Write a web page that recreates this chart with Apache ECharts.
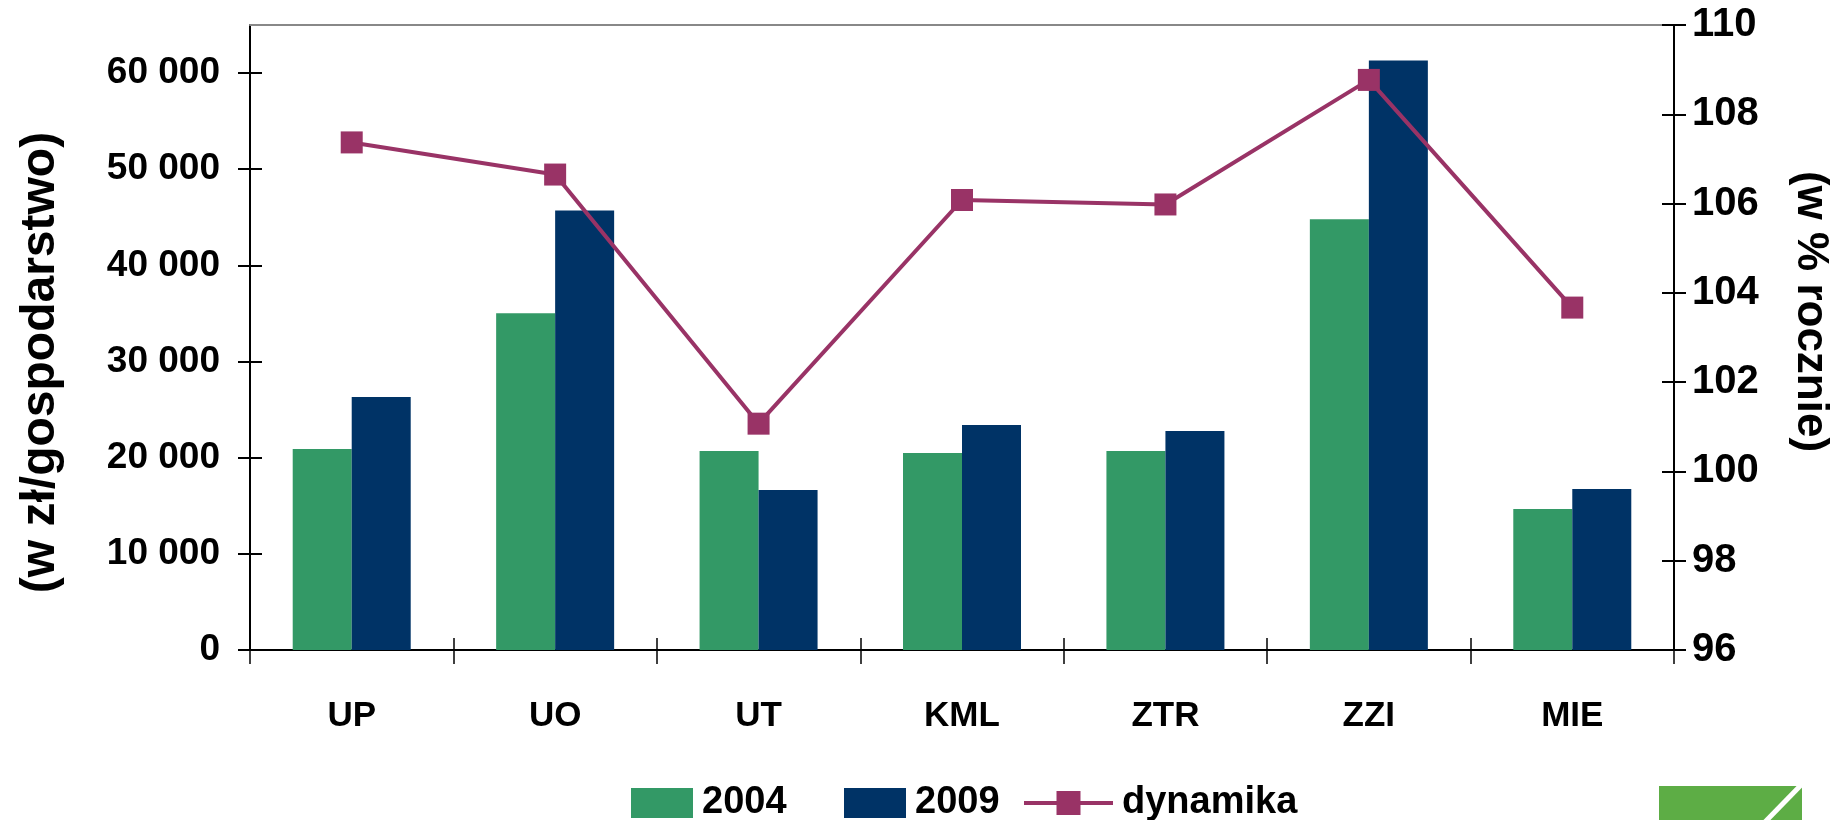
<!DOCTYPE html>
<html>
<head>
<meta charset="utf-8">
<script src="https://cdn.jsdelivr.net/npm/echarts@6/dist/echarts.min.js"></script>
<style>
html, body { margin: 0; padding: 0; background: #fff; }
#chart { width: 1843px; height: 820px; }
</style>
</head>
<body>
<div id="chart"></div>
<script>
var kategorie = ['UP', 'UO', 'UT', 'KML', 'ZTR', 'ZZI', 'MIE'];
var dochod2004 = [20900, 35030, 20700, 20500, 20700, 44790, 14670];
var dochod2009 = [26300, 45720, 16650, 23400, 22770, 61300, 16750];
var dynamika = [107.37, 106.65, 101.07, 106.08, 105.98, 108.77, 103.67];
var lewaOsTicks = [0, 10000, 20000, 30000, 40000, 50000, 60000];
var prawaOsMin = 96, prawaOsMax = 110, prawaOsKrok = 2;

var czcionka = "'Liberation Sans', Arial, sans-serif";

function formatTys(v) {
    return String(v).replace(/\B(?=(\d{3})+(?!\d))/g, ' ');
}

var chart = echarts.init(document.getElementById('chart'));

var legendaTekst = { fontSize: 38, fontWeight: 'bold', color: '#000', padding: [0, 0, 0, 4] };

var option = {
    backgroundColor: '#ffffff',
    animation: false,
    textStyle: { fontFamily: czcionka },
    grid: { left: 250, right: 169, top: 25, bottom: 170 },
    legend: [
        {
            data: [{ name: '2004', icon: 'rect' }], left: 631, bottom: -2, padding: 0,
            itemWidth: 62, itemHeight: 30, textStyle: legendaTekst
        },
        {
            data: [{ name: '2009', icon: 'rect' }], left: 844, bottom: -2, padding: 0,
            itemWidth: 62, itemHeight: 30, textStyle: legendaTekst
        },
        {
            data: ['dynamika'], left: 1022, bottom: -2, padding: 0,
            itemWidth: 89, itemHeight: 30, textStyle: legendaTekst,
            lineStyle: { width: 4 }
        }
    ],
    xAxis: [
        {
            type: 'category',
            data: kategorie,
            position: 'bottom',
            axisLine: { lineStyle: { color: '#000', width: 2 } },
            axisTick: { show: true, length: 14, lineStyle: { color: '#000', width: 1.5 } },
            axisLabel: { color: '#000', fontSize: 35, fontWeight: 'bold', margin: 49 }
        },
        {
            type: 'category',
            data: kategorie,
            position: 'bottom',
            axisLine: { show: false },
            axisTick: { show: true, inside: true, length: 12, lineStyle: { color: '#000', width: 1.5 } },
            axisLabel: { show: false }
        },
        {
            type: 'category',
            data: kategorie,
            position: 'top',
            axisLine: { lineStyle: { color: '#888', width: 2 } },
            axisTick: { show: false },
            axisLabel: { show: false }
        }
    ],
    yAxis: [
        {
            type: 'value',
            position: 'left',
            min: 0,
            max: 65000,
            name: '(w zł/gospodarstwo)',
            nameLocation: 'middle',
            nameRotate: 90,
            nameGap: 185,
            nameTextStyle: { color: '#000', fontSize: 48, fontWeight: 'bold', padding: [0, 50, 0, 0] },
            axisLine: { show: true, lineStyle: { color: '#000', width: 2 } },
            axisTick: { show: true, length: 12, customValues: lewaOsTicks, lineStyle: { color: '#000', width: 2 } },
            axisLabel: { color: '#000', fontSize: 37, fontWeight: 'bold', margin: 30, customValues: lewaOsTicks, formatter: formatTys },
            splitLine: { show: false }
        },
        {
            type: 'value',
            position: 'right',
            min: prawaOsMin,
            max: prawaOsMax,
            interval: prawaOsKrok,
            name: '(w % rocznie)',
            nameLocation: 'middle',
            nameRotate: -90,
            nameGap: 114,
            nameTextStyle: { color: '#000', fontSize: 44, fontWeight: 'bold', padding: [0, 52, 0, 0] },
            axisLine: { show: true, lineStyle: { color: '#000', width: 2 } },
            axisTick: { show: true, length: 12, lineStyle: { color: '#000', width: 2 } },
            axisLabel: { color: '#000', fontSize: 40, fontWeight: 'bold', margin: 18 },
            splitLine: { show: false }
        },
        {
            type: 'value',
            position: 'left',
            min: 0,
            max: 65000,
            axisLine: { show: false },
            axisTick: { show: true, inside: true, length: 12, customValues: lewaOsTicks, lineStyle: { color: '#000', width: 2 } },
            axisLabel: { show: false },
            splitLine: { show: false }
        },
        {
            type: 'value',
            position: 'right',
            min: prawaOsMin,
            max: prawaOsMax,
            interval: prawaOsKrok,
            axisLine: { show: false },
            axisTick: { show: true, inside: true, length: 12, lineStyle: { color: '#000', width: 2 } },
            axisLabel: { show: false },
            splitLine: { show: false }
        }
    ],
    series: [
        {
            name: '2004',
            type: 'bar',
            data: dochod2004,
            barWidth: 59,
            barGap: '0%',
            itemStyle: { color: '#339966' }
        },
        {
            name: '2009',
            type: 'bar',
            data: dochod2009,
            barWidth: 59,
            barGap: '0%',
            itemStyle: { color: '#003366' }
        },
        {
            name: 'dynamika',
            type: 'line',
            yAxisIndex: 1,
            data: dynamika,
            symbol: 'rect',
            symbolSize: 22,
            lineStyle: { color: '#993366', width: 4 },
            itemStyle: { color: '#993366' }
        }
    ],
    graphic: [
        {
            type: 'rect',
            left: 1659, top: 786,
            shape: { width: 143, height: 40 },
            style: { fill: '#5dad45' },
            silent: true
        },
        {
            type: 'line',
            shape: { x1: 1803, y1: 783, x2: 1765, y2: 822 },
            style: { stroke: '#ffffff', lineWidth: 5 },
            silent: true
        }
    ]
};

chart.setOption(option);
</script>
</body>
</html>
